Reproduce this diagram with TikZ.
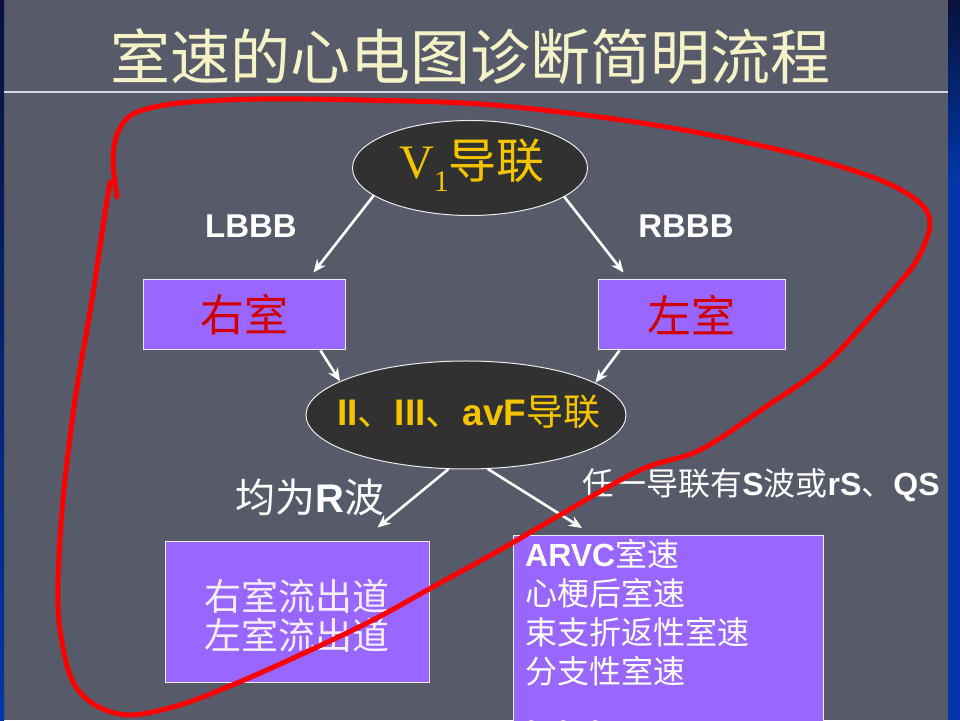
\documentclass[tikz,border=0pt]{standalone}
\usepackage{fontspec}
\setmainfont{Liberation Sans}
\newfontfamily\cjk{Noto Sans CJK SC}
\newfontfamily\serifV{Liberation Serif}
\usetikzlibrary{shapes.geometric,arrows.meta,calc}
\definecolor{bg}{HTML}{575A69}
\definecolor{slideblue}{HTML}{0036A8}
\definecolor{navy}{HTML}{08123A}
\definecolor{boxpurple}{HTML}{9966FF}
\definecolor{ellfill}{HTML}{313131}
\definecolor{gold}{HTML}{F5C400}
\definecolor{titlecream}{HTML}{F6F2C8}
\definecolor{kred}{HTML}{D00000}
\definecolor{boxtext}{HTML}{F4EEFF}
\definecolor{pen}{HTML}{FF0000}
\tikzset{
  ellnode/.style={ellipse, draw=white!85!gray, line width=1pt, fill=ellfill, inner sep=0pt},
  pbox/.style={rectangle, draw=white!85!gray, line width=1pt, fill=boxpurple, inner sep=0pt},
  arr/.style={draw=white, line width=2.6pt, -{Stealth[length=13pt,width=11pt]}},
  lab/.style={text=white, inner sep=0pt},
  penline/.style={draw=pen, line width=5pt, line cap=round, line join=round}
}
\begin{document}
\begin{tikzpicture}[x=1pt,y=1pt]
\clip (0,0) rectangle (960,720);
% background
\fill[bg] (0,0) rectangle (960,720);
\fill[slideblue] (948,0) rectangle (960,720);
\shade[top color=navy, bottom color=slideblue] (948,540) rectangle (960,720);
\shade[top color=navy, bottom color=slideblue] (0,0) rectangle (4,720);
\draw[white!75!bg, line width=1.3pt] (4,628) -- (948,628);
% title
\node[text=titlecream, inner sep=0pt, font=\cjk\fontsize{60}{62}\selectfont] (title) at (470,663) {室速的心电图诊断简明流程};
% nodes
\node[ellnode, minimum width=235pt, minimum height=95pt] (v1) at (470,552) {};
\node[text=gold, inner sep=0pt] (v1t) at (472,555) {\fontsize{48}{50}\selectfont\serifV V\raisebox{-0.28em}{\fontsize{30}{30}\selectfont 1}\cjk 导联};
\node[lab, font=\fontsize{33}{35}\selectfont\bfseries] (lbbb) at (251,494) {LBBB};
\node[lab, font=\fontsize{33}{35}\selectfont\bfseries] (rbbb) at (686,494) {RBBB};
\node[pbox, minimum width=202pt, minimum height=70pt] (rv) at (244,405) {};
\node[text=kred, inner sep=0pt, font=\cjk\fontsize{44}{46}\selectfont] (rvt) at (244,405) {右室};
\node[pbox, minimum width=187pt, minimum height=70pt] (lv) at (691.5,405) {};
\node[text=kred, inner sep=0pt, font=\cjk\fontsize{44}{46}\selectfont] (lvt) at (691.5,405) {左室};
\node[ellnode, minimum width=320pt, minimum height=108pt] (ii) at (466,305) {};
\node[text=gold, inner sep=0pt] (iit) at (469,308) {\fontsize{37}{39}\selectfont\bfseries II{\cjk\mdseries 、}III{\cjk\mdseries 、}avF{\cjk\mdseries 导联}};
\node[lab] (allr) at (310,223) {\fontsize{40}{42}\selectfont{\cjk 均为}\bfseries R{\cjk\mdseries 波}};
\node[lab] (anys) at (761,235) {\fontsize{32}{34}\selectfont{\cjk 任一导联有}\bfseries S{\cjk\mdseries 波或}rS{\cjk\mdseries 、}QS};
\node[pbox, minimum width=264pt, minimum height=140pt] (out) at (297,108) {};
\node[text=boxtext, align=center, inner sep=0pt, font=\cjk\fontsize{37}{39}\selectfont] (outt) at (297,104) {右室流出道\\左室流出道};
\node[pbox, anchor=north west, minimum width=310pt, minimum height=220pt] (arvc) at (513,185) {};
\node[text=white, align=left, anchor=north west, inner sep=0pt, font=\cjk\fontsize{32}{39}\selectfont] (arvct) at ([shift={(12,-4)}]arvc.north west)
  {{\fontspec{Liberation Sans}\bfseries ARVC}室速\\心梗后室速\\束支折返性室速\\分支性室速\\[6pt]。。。};
% arrows
\draw[arr] (v1.196) -- ([shift={(-32,7)}]rv.north east);
\draw[arr] (v1.343) -- ([shift={(26,7)}]lv.north west);
\draw[arr] ([xshift=-25pt]rv.south east) -- (ii.165);
\draw[arr] ([xshift=22pt]lv.south west) -- (ii.14);
\draw[arr] (ii.252) -- ([shift={(-52,14)}]out.north east);
\draw[arr] (ii.292) -- ([shift={(69,7)}]arvc.north west);
% red pen loop
\draw[penline] plot[smooth, tension=0.55] coordinates {
 (117,523) (113,560) (118,588) (135,607) (180,617) (260,621) (360,620) (480,616)
 (600,603) (700,587) (800,565) (880,540) (920,517) (930,495) (918,462) (895,432)
 (828,358) (764,312) (700,270) (640,250) (560,205) (500,170) (440,137) (373,100)
 (300,65) (237,37) (180,15) (130,5) (95,15) (72,40) (60,90) (58,140) (63,220)
 (75,320) (92,420) (104,500) (110,538)};
\end{tikzpicture}
\end{document}
